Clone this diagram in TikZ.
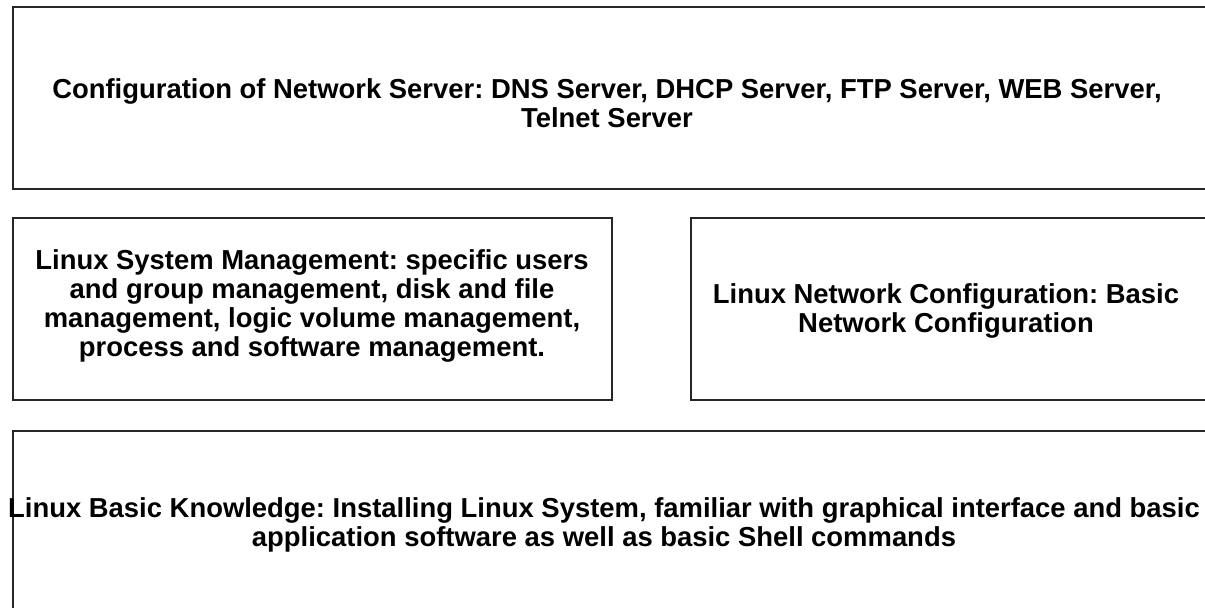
\documentclass[tikz,border=0pt]{standalone}
\usepackage{fontspec}
\setmainfont{Liberation Sans}
\frenchspacing
\tikzset{
  layerbox/.style={draw=black!85,line width=1.1pt},
  layertext/.style={align=center,font=\bfseries\fontsize{19.5}{20.8}\selectfont}
}
\begin{document}
\begin{tikzpicture}[x=0.025cm,y=-0.025cm]
\useasboundingbox (0,0) rectangle (1205,607);
\clip (0,0) rectangle (1205,607);
% top layer
\draw[layerbox] (13,7) rectangle (1210,189);
\node[layertext] (server) at (607,103) {Configuration of Network Server: DNS Server, DHCP Server, FTP Server, WEB Server,\\Telnet Server};
% middle layer
\draw[layerbox] (13,218) rectangle (612,400);
\node[layertext] (sysmgmt) at (312,306) {Linux System Management: specific users\\and group management, disk and file\\management, logic volume management,\\process and software management.};
\draw[layerbox] (691,218) rectangle (1210,400);
\node[layertext] (netconf) at (946,311) {Linux Network Configuration: Basic\\Network Configuration};
% bottom layer
\draw[layerbox] (13,431) rectangle (1210,640);
\node[layertext] (basics) at (604,525) {Linux Basic Knowledge: Installing Linux System, familiar with graphical interface and basic\\application software as well as basic Shell commands};
\end{tikzpicture}
\end{document}
